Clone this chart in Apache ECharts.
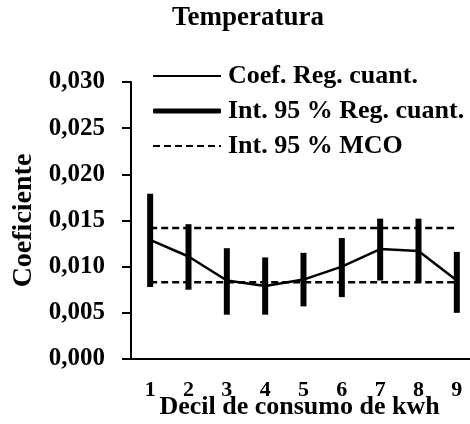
<!DOCTYPE html>
<html>
<head>
<meta charset="utf-8">
<script src="https://cdn.jsdelivr.net/npm/echarts@6/dist/echarts.min.js"></script>
<style>
  html, body { margin: 0; padding: 0; background: #fff; }
  #chart { width: 470px; height: 424px; }
</style>
</head>
<body>
<div id="chart"></div>
<script>
// deciles 1..9
const deciles = ["1", "2", "3", "4", "5", "6", "7", "8", "9"];
// quantile regression coefficient
const coef = [0.0129, 0.0111, 0.0085, 0.0079, 0.0086, 0.0100, 0.0119, 0.0117, 0.0085];
// 95 % interval of the quantile regression
const ciLow = [0.0078, 0.0075, 0.0048, 0.0048, 0.0057, 0.0067, 0.0085, 0.0083, 0.0050];
const ciHigh = [0.0179, 0.0146, 0.0120, 0.0110, 0.0115, 0.0131, 0.0152, 0.0152, 0.0116];
// 95 % interval of OLS (MCO)
const mcoHigh = 0.0142;
const mcoLow = 0.0083;

const font = "Liberation Serif";

let chart = echarts.init(document.getElementById("chart"));

let ciData = deciles.map((d, i) => [i, ciLow[i], ciHigh[i]]);

let option = {
  animation: false,
  textStyle: { fontFamily: font, fontWeight: "bold", color: "#000" },
  title: {
    text: "Temperatura",
    left: 243,
    top: 0,
    textAlign: "center",
    textStyle: { fontFamily: font, fontWeight: "bold", fontSize: 27, color: "#000" }
  },
  legend: {
    orient: "vertical",
    left: 147,
    top: 58,
    itemWidth: 68,
    itemHeight: 5,
    itemGap: 9,
    textStyle: { fontFamily: font, fontWeight: "bold", fontSize: 26, color: "#000", padding: [0, 0, 0, 2] },
    data: [
      { name: "Coef. Reg. cuant.", itemStyle: { opacity: 0 } },
      { name: "Int. 95 % Reg. cuant.", icon: "roundRect" },
      { name: "Int. 95 % MCO", itemStyle: { opacity: 0 } }
    ]
  },
  grid: {
    left: 131,
    right: -6,
    top: 82,
    bottom: 65,
    containLabel: false,
    outerBoundsMode: "none"
  },
  xAxis: {
    type: "category",
    data: deciles,
    name: "Decil de consumo de kwh",
    nameLocation: "middle",
    nameGap: 35,
    nameMoveOverlap: false,
    nameTextStyle: { fontFamily: font, fontWeight: "bold", fontSize: 26, color: "#000", padding: [0, 8, 0, 0] },
    axisLine: { lineStyle: { color: "#000", width: 2 } },
    axisTick: { length: 7, lineStyle: { color: "#000", width: 2 } },
    axisLabel: { fontFamily: font, fontWeight: "bold", fontSize: 22, color: "#000", margin: 20 },
    splitLine: { show: false }
  },
  yAxis: {
    type: "value",
    min: 0,
    max: 0.03,
    interval: 0.005,
    name: "Coeficiente",
    nameLocation: "middle",
    nameGap: 93,
    nameMoveOverlap: false,
    nameTextStyle: { fontFamily: font, fontWeight: "bold", fontSize: 28, color: "#000" },
    axisLine: { show: true, lineStyle: { color: "#000", width: 2 } },
    axisTick: { show: true, length: 9, lineStyle: { color: "#000", width: 2 } },
    axisLabel: {
      fontFamily: font,
      fontWeight: "bold",
      fontSize: 25,
      color: "#000",
      margin: 26,
      formatter: v => v.toFixed(3).replace(".", ",")
    },
    splitLine: { show: false }
  },
  series: [
    {
      name: "Int. 95 % MCO",
      type: "line",
      symbol: "none",
      data: deciles.map(() => mcoHigh),
      lineStyle: { color: "#000", width: 2.5, type: [7, 4] },
      itemStyle: { color: "#000" },
      z: 1
    },
    {
      name: "Int. 95 % MCO",
      type: "line",
      symbol: "none",
      data: deciles.map(() => mcoLow),
      lineStyle: { color: "#000", width: 2.5, type: [7, 4] },
      itemStyle: { color: "#000" },
      z: 1
    },
    {
      name: "Int. 95 % Reg. cuant.",
      type: "custom",
      itemStyle: { color: "#000" },
      encode: { x: 0, y: [1, 2] },
      data: ciData,
      renderItem: (params, api) => {
        let lo = api.coord([api.value(0), api.value(1)]);
        let hi = api.coord([api.value(0), api.value(2)]);
        return {
          type: "line",
          shape: { x1: lo[0], y1: lo[1], x2: hi[0], y2: hi[1] },
          style: { stroke: "#000", lineWidth: 6 }
        };
      },
      z: 2
    },
    {
      name: "Coef. Reg. cuant.",
      type: "line",
      symbol: "none",
      data: coef,
      lineStyle: { color: "#000", width: 2.5 },
      itemStyle: { color: "#000" },
      z: 3
    }
  ]
};

chart.setOption(option, true);
</script>
</body>
</html>
